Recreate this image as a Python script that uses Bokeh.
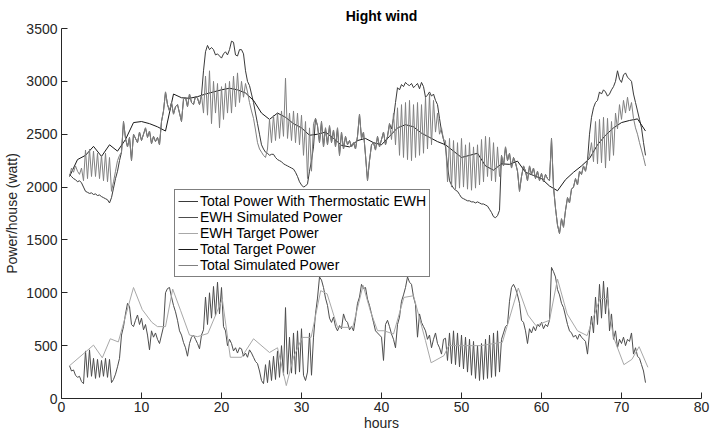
import numpy as np
from bokeh.plotting import figure
from bokeh.models import Range1d, FixedTicker
from bokeh.embed import file_html
from bokeh.resources import INLINE

# ---------------- data ----------------
series_names = ["Total Power With Thermostatic EWH", "EWH Simulated Power",
                "EWH Target Power", "Total Target Power", "Total Simulated Power"]
x_ticks = [0, 10, 20, 30, 40, 50, 60, 70, 80]
y_ticks = [0, 500, 1000, 1500, 2000, 2500, 3000, 3500]

# quarter-hour samples starting at hour 1
total_thermo = [
    2120, 2100, 2080, 2070, 2050, 2060, 2040, 2000, 1960, 1950, 1940, 1945,
    1930, 1935, 1920, 1925, 1910, 1900, 1890, 1880, 1850, 1900, 1990, 2080,
    2150, 2250, 2330, 2620, 2460, 2380, 2470, 2250, 2500, 2460, 2420, 2520,
    2440, 2500, 2560, 2470, 2530, 2410, 2480, 2430, 2470, 2400, 2620, 2720,
    2900, 2780, 2720, 2800, 2690, 2760, 2780, 2700, 2620, 2830, 2850, 2760,
    2880, 2800, 2780, 2860, 2840, 2780, 2870, 3100, 3280, 3340, 3300, 3320,
    3300, 3250, 3260, 3240, 3220, 3260, 3280, 3250, 3300, 3380, 3370, 3250,
    3240, 3300, 3300, 3260, 3100, 3000, 2960, 2880, 2800, 2700, 2600, 2500,
    2400, 2360, 2330, 2320, 2300, 2310, 2310, 2280, 2260, 2250, 2240, 2220,
    2210, 2200, 2190, 2180, 2170, 2140, 2100, 2050, 2020, 2000, 2010, 2030,
    2150, 2250, 2380, 2650, 2580, 2420, 2620, 2380, 2560, 2400, 2580, 2420,
    2540, 2380, 2560, 2300, 2520, 2360, 2480, 2400, 2440, 2380, 2420, 2360,
    2480, 2690, 2460, 2520, 2300, 2060, 2250, 2400, 2420, 2350, 2480, 2380,
    2450, 2520, 2400, 2480, 2600, 2550, 2650, 2800, 2940, 2920, 2970, 2950,
    2990, 2970, 2960, 2980, 2940, 2960, 2980, 2930, 2990, 2950, 2850, 2870,
    2900, 2860, 2880, 2820, 2780, 2650, 2530, 2450, 2380, 2200, 2060, 2020,
    1990, 1970, 1960, 1930, 1900, 1890, 1880, 1870, 1870, 1860, 1860, 1850,
    1860, 1850, 1840, 1840, 1830, 1820, 1790, 1760, 1720, 1710, 1730, 1780,
    2300, 2200, 2380, 2250, 2320, 2180, 2280, 2230, 2150, 1960, 2100, 2200,
    2150, 2060, 2200, 2120, 2180, 2080, 2150, 2060, 2130, 2050, 2120, 2080,
    2060, 2460, 2000, 1800, 1640, 1560, 1700, 1620, 1780, 1900, 1850, 1980,
    2000, 2080, 2020, 2150, 2120, 2200, 2150, 2250, 2500, 2660, 2750, 2800,
    2820, 2900, 2880, 2920, 2900, 2860, 2880, 2920, 2950, 3000, 3100, 3020,
    2990, 3060, 3080, 3040, 3020, 3000, 2880, 2800, 2720, 2640, 2560, 2420,
    2300]

ewh_sim = [
    310, 260, 270, 220, 200, 210, 160, 140, 450, 200, 460, 210,
    380, 190, 370, 200, 360, 210, 380, 200, 370, 150, 180, 230,
    300, 380, 600, 680, 800, 900, 870, 700, 680, 740, 790, 700,
    760, 650, 700, 600, 460, 640, 580, 620, 560, 520, 600, 680,
    1000, 1040, 1050, 960, 880, 820, 740, 640, 600, 530, 480, 400,
    520, 580, 600, 560, 520, 470, 600, 650, 960, 700, 1000, 760,
    1060, 780, 1100, 800, 1050, 680, 640, 500, 560, 520, 450, 480,
    430, 480, 470, 400, 430, 390, 460, 430, 390, 350, 330, 260,
    170, 140, 320, 150, 360, 170, 400, 180, 450, 200, 500, 220,
    860, 230, 580, 240, 620, 230, 640, 250, 660, 220, 170, 250,
    620, 220, 580, 800, 950, 1150, 1120, 1050, 950, 880, 760, 720,
    770, 680, 640, 690, 660, 800, 740, 720, 650, 680, 640, 760,
    900, 960, 1080, 1040, 1050, 940, 880, 800, 720, 640, 620, 600,
    580, 360, 700, 740, 680, 610, 560, 480, 700, 770, 920, 980,
    1050, 1150, 1100, 1080, 960, 890, 580, 800, 720, 680, 640, 560,
    600, 480, 560, 620, 520, 480, 420, 560, 570, 360, 620, 330,
    640, 320, 620, 300, 600, 280, 580, 250, 560, 220, 540, 190,
    500, 170, 520, 180, 560, 190, 600, 200, 620, 210, 640, 250,
    560, 620, 680, 700, 920, 1050, 1080, 1040, 980, 900, 740, 720,
    640, 520, 660, 620, 680, 640, 700, 680, 720, 660, 700, 680,
    740, 1240, 1200, 1150, 1030, 980, 900, 860, 780, 700, 640, 620,
    580, 600, 560, 610, 580, 560, 540, 420, 620, 780, 620, 960,
    700, 1080, 760, 1110, 800, 1050, 640, 800, 560, 640, 480, 560,
    520, 580, 500, 560, 540, 620, 420, 480, 400, 380, 320, 260,
    150]

total_sim = [
    2100, 2180, 2140, 2200, 2150, 2120, 2180, 2060, 2350, 2080, 2360, 2100,
    2340, 2100, 2320, 2080, 2300, 2060, 2320, 2050, 2280, 1960, 2050, 2150,
    2250, 2300, 2330, 2620, 2460, 2380, 2470, 2250, 2500, 2460, 2420, 2520,
    2440, 2500, 2560, 2470, 2530, 2410, 2480, 2430, 2470, 2400, 2620, 2720,
    2900, 2780, 2720, 2800, 2690, 2760, 2780, 2700, 2620, 2830, 2850, 2760,
    2880, 2800, 2780, 2860, 2840, 2780, 2870, 2700, 3050, 2680, 3100, 2600,
    3000, 2700, 2980, 2560, 2950, 2640, 2980, 2700, 3000, 2700, 3050, 2760,
    3080, 2800, 3000, 2850, 2980, 2900, 2800, 2720, 2650, 2540, 2420, 2360,
    2330, 2300, 2280, 2360, 2640, 2420, 2680, 2440, 2700, 2460, 2720, 2480,
    3030, 2460, 2700, 2440, 2720, 2420, 2700, 2400, 2680, 2300, 2620, 2080,
    2560, 2150, 2600, 2650, 2580, 2420, 2620, 2380, 2560, 2400, 2580, 2420,
    2540, 2380, 2560, 2300, 2520, 2360, 2480, 2400, 2440, 2380, 2420, 2360,
    2480, 2690, 2460, 2520, 2300, 2060, 2250, 2400, 2420, 2350, 2480, 2380,
    2450, 2520, 2400, 2480, 2600, 2450, 2700, 2400, 2750, 2300, 2780, 2280,
    2800, 2260, 2820, 2250, 2780, 2280, 2800, 2300, 2780, 2320, 2850, 2360,
    2880, 2400, 2820, 2520, 2700, 2500, 2560, 2450, 2440, 2050, 2460, 2000,
    2440, 1980, 2420, 1990, 2460, 2000, 2400, 1980, 2420, 1970, 2380, 1990,
    2400, 2020, 2450, 2050, 2480, 2100, 2470, 2060, 2420, 2050, 2380, 2100,
    2300, 2200, 2380, 2250, 2320, 2180, 2280, 2230, 2150, 1960, 2100, 2200,
    2150, 2060, 2200, 2120, 2180, 2080, 2150, 2060, 2130, 2050, 2120, 2080,
    2060, 2460, 2000, 1800, 1640, 1560, 1700, 1620, 1780, 1900, 1850, 1980,
    2000, 2080, 2020, 2150, 2120, 2200, 2150, 2250, 2300, 2420, 2240, 2620,
    2220, 2640, 2230, 2660, 2180, 2650, 2250, 2620, 2300, 2700, 2550, 2780,
    2640, 2820, 2700, 2850, 2720, 2800, 2650, 2560, 2500, 2420, 2350, 2280,
    2200]

# hourly samples starting at hour 1
total_target = [
    2100, 2260, 2300, 2385, 2290, 2400, 2340, 2450, 2610, 2620,
    2600, 2570, 2530, 2880, 2845, 2840, 2855, 2880, 2900, 2920,
    2935, 2920, 2890, 2820, 2700, 2640, 2700, 2660, 2600, 2560,
    2490, 2500, 2520, 2460, 2395, 2380, 2440, 2460, 2420, 2400,
    2480, 2560, 2590, 2570, 2510, 2470, 2430, 2400, 2340, 2280,
    2300, 2320, 2200, 2160, 2220, 2215, 2245, 2140, 2110, 2080,
    2010, 1965, 2070, 2140, 2200, 2270, 2400, 2490, 2560, 2610,
    2630, 2645, 2530]

# piecewise-linear vertices
ewh_target_hours = [1, 4, 5.1, 6.1, 7.1, 9, 10.1, 11.3, 12, 13, 13.9, 14.9, 16, 17,
                    18.3, 20.1, 21.1, 22.5, 24, 26, 27, 28.1, 29, 30.1, 31.2, 32.4,
                    33.2, 34.5, 36.4, 37.7, 38.6, 39.5, 40.3, 41.5, 42.8, 44, 45.5,
                    46.2, 47.8, 48.4, 51.4, 52.4, 54.9, 55.1, 57.1, 58.3, 59.3, 61,
                    62, 63.2, 64.5, 65.7, 66.5, 67.3, 68.2, 69, 70.3, 71.3, 72.2, 73.3]
ewh_target = [310, 505, 385, 565, 535, 1050, 840, 720, 680, 680, 1035, 830, 600, 585,
              615, 940, 390, 390, 565, 435, 480, 122, 390, 578, 578, 1020,
              990, 673, 673, 1070, 830, 641, 641, 610, 956, 972, 547,
              338, 405, 500, 500, 500, 530, 530, 1045, 790, 690, 740,
              1130, 800, 640, 595, 770, 945, 945, 580, 320, 370, 490, 295]

colors = ["#3a3a3a", "#4d4d4d", "#a8a8a8", "#1a1a1a", "#808080"]

# ---------------- figure ----------------
t_quarter = 1 + 0.25 * np.arange(len(total_sim))
t_quarter_th = 1 + 0.25 * np.arange(len(total_thermo))
t_quarter_ewh = 1 + 0.25 * np.arange(len(ewh_sim))
t_hour = 1 + np.arange(len(total_target))

FONT = "Liberation Sans"

p = figure(width=712, height=434, output_backend="svg", toolbar_location=None,
           x_range=Range1d(0, 80), y_range=Range1d(0, 3500), title="Hight wind",
           min_border_left=61, min_border_right=11, min_border_top=27,
           min_border_bottom=36)

p.line(t_quarter_th, total_thermo, line_color=colors[0], line_width=1,
       legend_label=series_names[0])
p.line(t_quarter_ewh, ewh_sim, line_color=colors[1], line_width=1,
       legend_label=series_names[1])
p.line(ewh_target_hours, ewh_target, line_color=colors[2], line_width=1,
       legend_label=series_names[2])
p.line(t_hour, total_target, line_color=colors[3], line_width=1,
       legend_label=series_names[3])
p.line(t_quarter, total_sim, line_color=colors[4], line_width=1,
       legend_label=series_names[4])

p.outline_line_color = None
p.xgrid.visible = False
p.ygrid.visible = False
p.background_fill_color = "white"
p.border_fill_color = "white"

p.title.text_font = FONT
p.title.text_font_style = "bold"
p.title.text_font_size = "14px"
p.title.align = "center"
p.title.text_color = "black"

for ax in (p.xaxis[0], p.yaxis[0]):
    ax.axis_line_color = "#262626"
    ax.major_tick_line_color = "#262626"
    ax.major_tick_in = 6
    ax.major_tick_out = 0
    ax.minor_tick_line_color = None
    ax.major_label_text_font = FONT
    ax.major_label_text_font_size = "14px"
    ax.major_label_text_color = "#262626"
    ax.axis_label_text_font = FONT
    ax.axis_label_text_font_size = "14px"
    ax.axis_label_text_font_style = "normal"
    ax.axis_label_text_color = "#262626"

p.xaxis.ticker = FixedTicker(ticks=x_ticks)
p.yaxis.ticker = FixedTicker(ticks=y_ticks)
p.xaxis.axis_label = "hours"
p.yaxis.axis_label = "Power/house (watt)"
p.xaxis.major_label_standoff = 3
p.xaxis.axis_label_standoff = 0
p.yaxis.major_label_standoff = 4
p.yaxis.axis_label_standoff = 3

lg = p.legend[0]
lg.location = (113, 121)
lg.border_line_color = "black"
lg.border_line_width = 1
lg.background_fill_alpha = 1
lg.padding = 3
lg.spacing = -1
lg.margin = 0
lg.glyph_width = 20
lg.glyph_height = 14
lg.label_height = 14
lg.label_standoff = 2
lg.label_text_font = FONT
lg.label_text_font_size = "14px"
lg.label_text_line_height = 1.0
lg.label_text_color = "black"

open("out.html", "w").write(file_html(p, INLINE))
